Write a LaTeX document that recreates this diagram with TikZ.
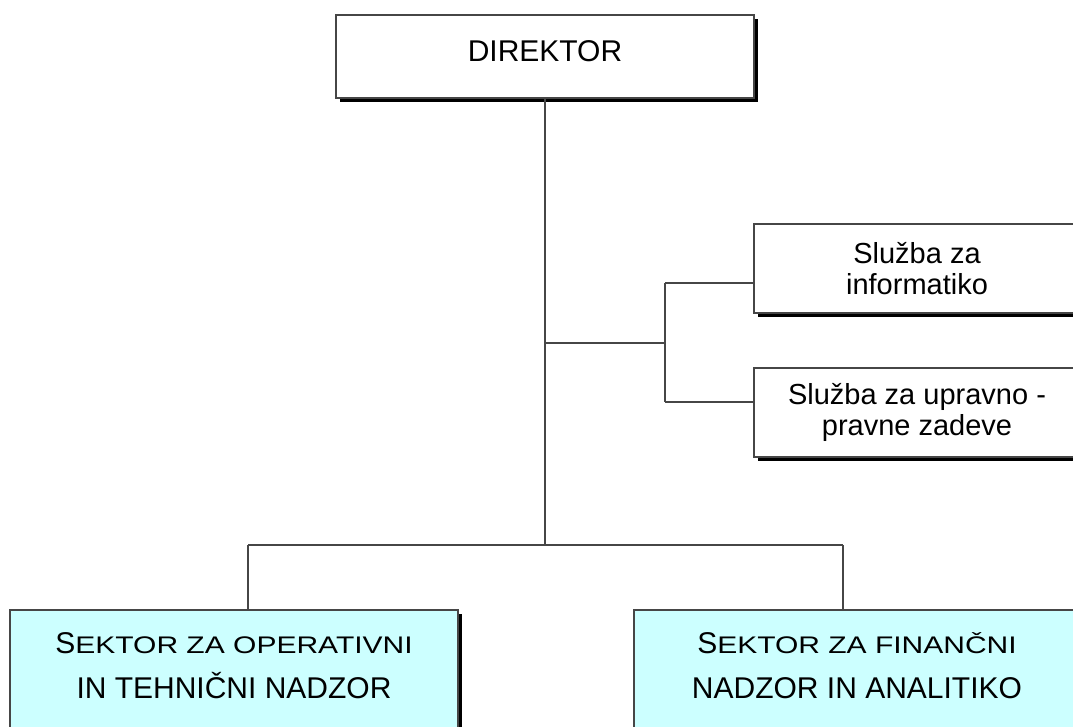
\documentclass[tikz,border=0pt]{standalone}
\usepackage{fontspec}
\setmainfont{Liberation Sans}
\usepackage{graphicx}
\usetikzlibrary{shadows}
\definecolor{boxline}{RGB}{70,70,70}
\definecolor{secfill}{RGB}{204,255,255}
\begin{document}
\begin{tikzpicture}[x=1pt,y=-1pt,
  conn/.style={draw=boxline,line width=1.5pt},
  orgbox/.style={draw=boxline,line width=1.5pt,fill=white,inner sep=0pt,
    drop shadow={shadow xshift=4pt,shadow yshift=-4pt,fill=black,opacity=1}},
  dirbox/.style={orgbox,minimum width=418pt,minimum height=83pt,
    font=\fontsize{30}{31}\selectfont,text depth=11pt},
  slbox/.style={orgbox,minimum width=326pt,minimum height=89pt,align=center,
    font=\fontsize{29}{31}\selectfont},
  secbox/.style={orgbox,fill=secfill,minimum height=160pt},
  sectext/.style={anchor=base,inner sep=0pt,font=\fontsize{30}{31}\selectfont}]
\useasboundingbox (0,0) rectangle (1073,727);
\node[dirbox] (dir) at (545,56.5) {DIREKTOR};
\node[slbox] (inf) at (917,268.5) {Služba za\\informatiko};
\node[slbox] (upr) at (917,412.5) {Služba za upravno -\\pravne zadeve};
\node[secbox,minimum width=448pt] (sec1) at (234,690) {};
\node[secbox,minimum width=446pt] (sec2) at (857,690) {};
\node[sectext] (sec1a) at (234,653) {S\scalebox{1}[0.8]{EKTOR ZA OPERATIVNI}};
\node[sectext] (sec1b) at (234,698) {IN TEHNIČNI NADZOR};
\node[sectext] (sec2a) at (857,653) {S\scalebox{1}[0.8]{EKTOR ZA FINANČNI}};
\node[sectext] (sec2b) at (857,698) {NADZOR IN ANALITIKO};
\coordinate (bus) at (545,545);
\coordinate (b1) at (248,545);
\coordinate (b2) at (843,545);
\coordinate (j) at (545,343);
\coordinate (k) at (665,343);
\coordinate (k1) at (665,283);
\coordinate (k2) at (665,402);
\draw[conn] (dir.south) -- (bus);
\draw[conn] (b1) -- (b2);
\draw[conn] (b1) -- (b1 |- sec1.north);
\draw[conn] (b2) -- (b2 |- sec2.north);
\draw[conn] (j) -- (k);
\draw[conn] (k1) -- (k2);
\draw[conn] (k1) -- (k1 -| inf.west);
\draw[conn] (k2) -- (k2 -| upr.west);
\end{tikzpicture}
\end{document}
